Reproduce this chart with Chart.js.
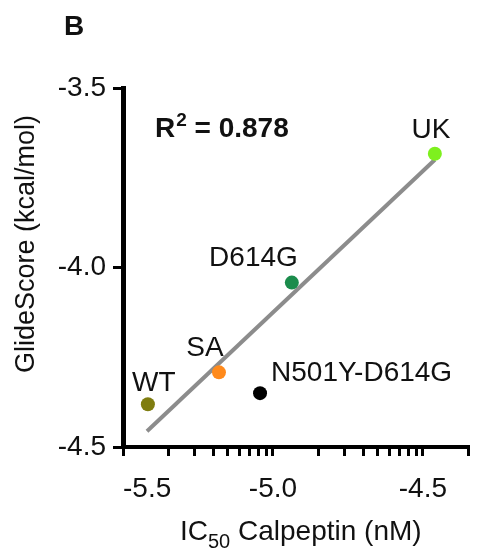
<!DOCTYPE html>
<html>
<head>
<meta charset="utf-8">
<script src="https://cdn.jsdelivr.net/npm/chart.js@4/dist/chart.umd.min.js"></script>
<style>
  html, body { margin: 0; padding: 0; background: #fff; }
  #wrap { width: 480px; height: 550px; }
</style>
</head>
<body>
<div id="wrap"><canvas id="chart" width="480" height="550"></canvas></div>
<script>
const variants = ['WT', 'SA', 'N501Y-D614G', 'D614G', 'UK'];
const ic50 = [-5.417, -5.18, -5.043, -4.937, -4.46];
const glide = [-4.381, -4.292, -4.35, -4.042, -3.683];
const variantColors = ['#7f7d10', '#ff8a1c', '#000000', '#1b8c4c', '#7ef01e'];

const fitX = [-5.42, -4.46];
const fitY = [-4.456, -3.70];

const xMajor = [-5.5, -5.0, -4.5];
const xTickLabels = ['-5.5', '-5.0', '-4.5'];
const yTicks = [-4.5, -4.0, -3.5];
const yTickLabels = ['-4.5', '-4.0', '-3.5'];

const FONT = '"Liberation Sans", Arial, sans-serif';

// label placement relative to each point: dx, dy, align
const labelPos = [
  [6, -13, 'center'],
  [-14, -16, 'center'],
  [11, -12, 'left'],
  [6, -17, 'right'],
  [-4, -16, 'center']
];

// log-style minor ticks between the labelled decades
function xTickValues(max) {
  const out = [];
  xMajor.forEach(m => {
    out.push(m);
    for (let k = 2; k <= 9; k++) {
      const v = m + 0.5 * Math.log10(k);
      if (v <= max + 1e-6) out.push(v);
    }
  });
  return out.filter(v => v <= max + 1e-6);
}

const xMax = -4.5 + 0.5 * Math.log10(2);

const decor = {
  id: 'decor',
  afterDraw(chart) {
    const { ctx, scales: { x, y } } = chart;
    ctx.save();
    ctx.fillStyle = '#111';

    // x tick labels
    ctx.font = '28px ' + FONT;
    ctx.textBaseline = 'alphabetic';
    xMajor.forEach((v, i) => {
      const px = x.getPixelForValue(v);
      ctx.textAlign = i === 0 ? 'left' : 'center';
      ctx.fillText(xTickLabels[i], px, 497);
    });

    // point labels
    ctx.font = '28px ' + FONT;
    const pts = chart.getDatasetMeta(1).data;
    pts.forEach((p, i) => {
      const [dx, dy, al] = labelPos[i];
      ctx.textAlign = al;
      ctx.fillText(variants[i], p.x + dx, p.y + dy);
    });

    // panel letter
    ctx.font = 'bold 28px ' + FONT;
    ctx.textAlign = 'left';
    ctx.fillText('B', 64, 35);

    // R squared
    let cx = 155;
    ctx.fillText('R', cx, 137);
    cx += ctx.measureText('R').width;
    ctx.font = 'bold 19px ' + FONT;
    ctx.fillText('2', cx + 1, 126);
    cx += ctx.measureText('2').width + 1;
    ctx.font = 'bold 28px ' + FONT;
    ctx.fillText(' = 0.878', cx, 137);

    // x title with subscript
    ctx.font = '28px ' + FONT;
    cx = 180;
    ctx.fillText('IC', cx, 540);
    cx += ctx.measureText('IC').width;
    ctx.font = '20px ' + FONT;
    ctx.fillText('50', cx, 548);
    cx += ctx.measureText('50').width;
    ctx.font = '28px ' + FONT;
    ctx.fillText(' Calpeptin (nM)', cx, 540);

    // y title
    ctx.translate(27, 244);
    ctx.rotate(-Math.PI / 2);
    ctx.textAlign = 'center';
    ctx.textBaseline = 'middle';
    ctx.font = '27px ' + FONT;
    ctx.fillText('GlideScore (kcal/mol)', 0, 0);
    ctx.restore();
  }
};

new Chart(document.getElementById('chart'), {
  type: 'scatter',
  data: {
    datasets: [
      {
        type: 'line',
        label: 'Fit',
        data: fitX.map((v, i) => ({ x: v, y: fitY[i] })),
        borderColor: '#8c8c8c',
        borderWidth: 4,
        pointRadius: 0,
        fill: false,
        order: 2
      },
      {
        label: 'Variants',
        data: ic50.map((v, i) => ({ x: v, y: glide[i] })),
        backgroundColor: variantColors,
        borderWidth: 0,
        pointRadius: 7,
        order: 1
      }
    ]
  },
  options: {
    responsive: false,
    animation: false,
    layout: { padding: { top: 88, right: 12, left: 0, bottom: 0 } },
    plugins: { legend: { display: false }, tooltip: { enabled: false } },
    scales: {
      x: {
        type: 'linear',
        min: -5.5,
        max: xMax,
        afterBuildTicks: s => { s.ticks = xTickValues(xMax).map(v => ({ value: v })); },
        afterFit: s => { s.height = 103; },
        ticks: { display: false },
        grid: { drawOnChartArea: false, drawTicks: true, tickLength: 9, color: '#000', lineWidth: 3 },
        border: { display: true, color: '#000', width: 4 }
      },
      y: {
        min: -4.5,
        max: -3.5,
        afterBuildTicks: s => { s.ticks = yTicks.map(v => ({ value: v })); },
        afterFit: s => { s.width = 123; },
        ticks: {
          color: '#111',
          padding: 7,
          font: { family: FONT, size: 28 },
          callback: v => yTickLabels[yTicks.findIndex(t => Math.abs(t - v) < 1e-6)]
        },
        grid: { drawOnChartArea: false, drawTicks: true, tickLength: 10, color: '#000', lineWidth: 3 },
        border: { display: true, color: '#000', width: 5 }
      }
    }
  },
  plugins: [decor]
});
</script>
</body>
</html>
